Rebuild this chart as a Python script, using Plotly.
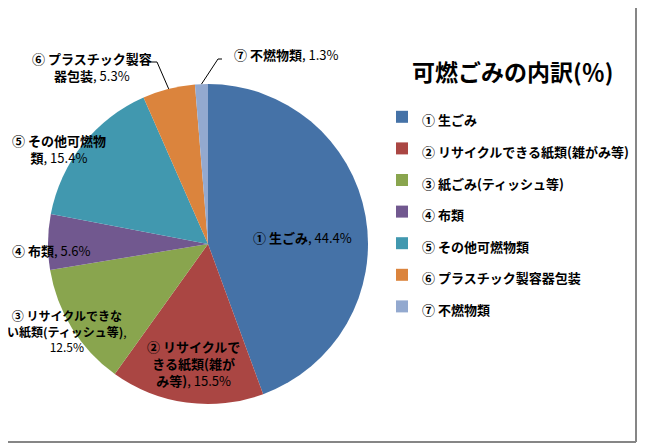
import math
import plotly.graph_objects as go

# data
names = ["① 生ごみ", "② リサイクルできる紙類(雑がみ等)", "③ 紙ごみ(ティッシュ等)",
         "④ 布類", "⑤ その他可燃物類", "⑥ プラスチック製容器包装", "⑦ 不燃物類"]
values = [44.4, 15.5, 12.5, 5.6, 15.4, 5.3, 1.3]
colors = ["#4572A7", "#AA4643", "#89A54E", "#71588F", "#4198AF", "#DB843D", "#93A9CF"]
# text shown next to each slice (line breaks as in the original)
slice_text = ["① 生ごみ", "② リサイクルで<br>きる紙類(雑が<br>み等)", "③ リサイクルできな<br>い紙類(ティッシュ等)",
              "④ 布類", "⑤ その他可燃物<br>類", "⑥ プラスチック製容<br>器包装", "⑦ 不燃物類"]

# page has an 8px body margin, so the figure is a bit smaller and
# positions below are given in window pixels
OFF = 8
W, H = 645 - OFF, 445 - OFF
CX, CY, R = 208, 244, 160
FONT = "Noto Sans CJK JP"

def px(x):
    return (x - OFF) / W

def py(y):
    return 1 - (y - OFF) / H

fig = go.Figure()
fig.add_trace(go.Pie(
    labels=['<span style="font-size:13px"><b>%s</b></span>' % n for n in names],
    values=values,
    sort=False,
    direction="clockwise",
    rotation=0,
    marker=dict(colors=colors, line=dict(width=0)),
    textinfo="none",
    hoverinfo="label+percent",
    domain=dict(x=[px(CX - R), px(CX + R)], y=[py(CY + R), py(CY - R)]),
    showlegend=True,
))

# label placement (pixel centre of each label block), hand tuned
label_pos = [(302, 237), (193, 363), (67, 331), (51, 250), (59, 149), (92, 67), (286, 55)]
for i, (lx, ly) in enumerate(label_pos):
    parts = slice_text[i].split("<br>")
    pct = "%.1f%%" % values[i]
    if i == 2:
        t = "<br>".join("<b>" + p + "</b>" for p in parts) + ",<br>" + pct
    else:
        t = "<br>".join("<b>" + p + "</b>" for p in parts) + ", " + pct
    fig.add_annotation(
        x=px(lx), y=py(ly), xref="paper", yref="paper",
        xanchor="center", yanchor="middle",
        text=t, showarrow=False, align="center",
        font=dict(family=FONT, size=12 if i == 2 else 13, color="black"),
    )

# leader lines for the two small slices
cum = 0
tips = []
for v in values:
    mid = (cum + v / 2) / 100 * 2 * math.pi
    tips.append((CX + R * math.sin(mid), CY - R * math.cos(mid)))
    cum += v
leaders = {5: [(149, 62), (157, 62)], 6: [(222, 59), (218, 59)]}
for i, pts in leaders.items():
    tx, ty = tips[i]
    path = "M %f,%f L %f,%f L %f,%f" % (px(pts[0][0]), py(pts[0][1]), px(pts[1][0]), py(pts[1][1]),
                                         px(tx), py(ty))
    fig.add_shape(type="path", path=path, xref="paper", yref="paper",
                  line=dict(color="black", width=1))

# title
fig.add_annotation(
    x=px(512), y=py(71), xref="paper", yref="paper",
    xanchor="center", yanchor="middle",
    text="<b>可燃ごみの内訳(％)</b>", showarrow=False,
    font=dict(family=FONT, size=23, color="black"),
)

# outer frame (right and bottom edges that fall inside the window)
fig.add_shape(type="line", x0=px(636), x1=px(636), y0=py(442), y1=1, xref="paper", yref="paper",
              line=dict(color="#868686", width=2))
fig.add_shape(type="line", x0=0, x1=px(636), y0=py(442), y1=py(442), xref="paper", yref="paper",
              line=dict(color="#868686", width=2))

fig.update_layout(
    width=W, height=H,
    margin=dict(l=0, r=0, t=0, b=0),
    paper_bgcolor="white",
    legend=dict(
        x=px(382), y=py(96), xanchor="left", yanchor="top",
        font=dict(family=FONT, size=22, color="black"),
        itemclick=False,
    ),
)

fig.write_html("out.html")
